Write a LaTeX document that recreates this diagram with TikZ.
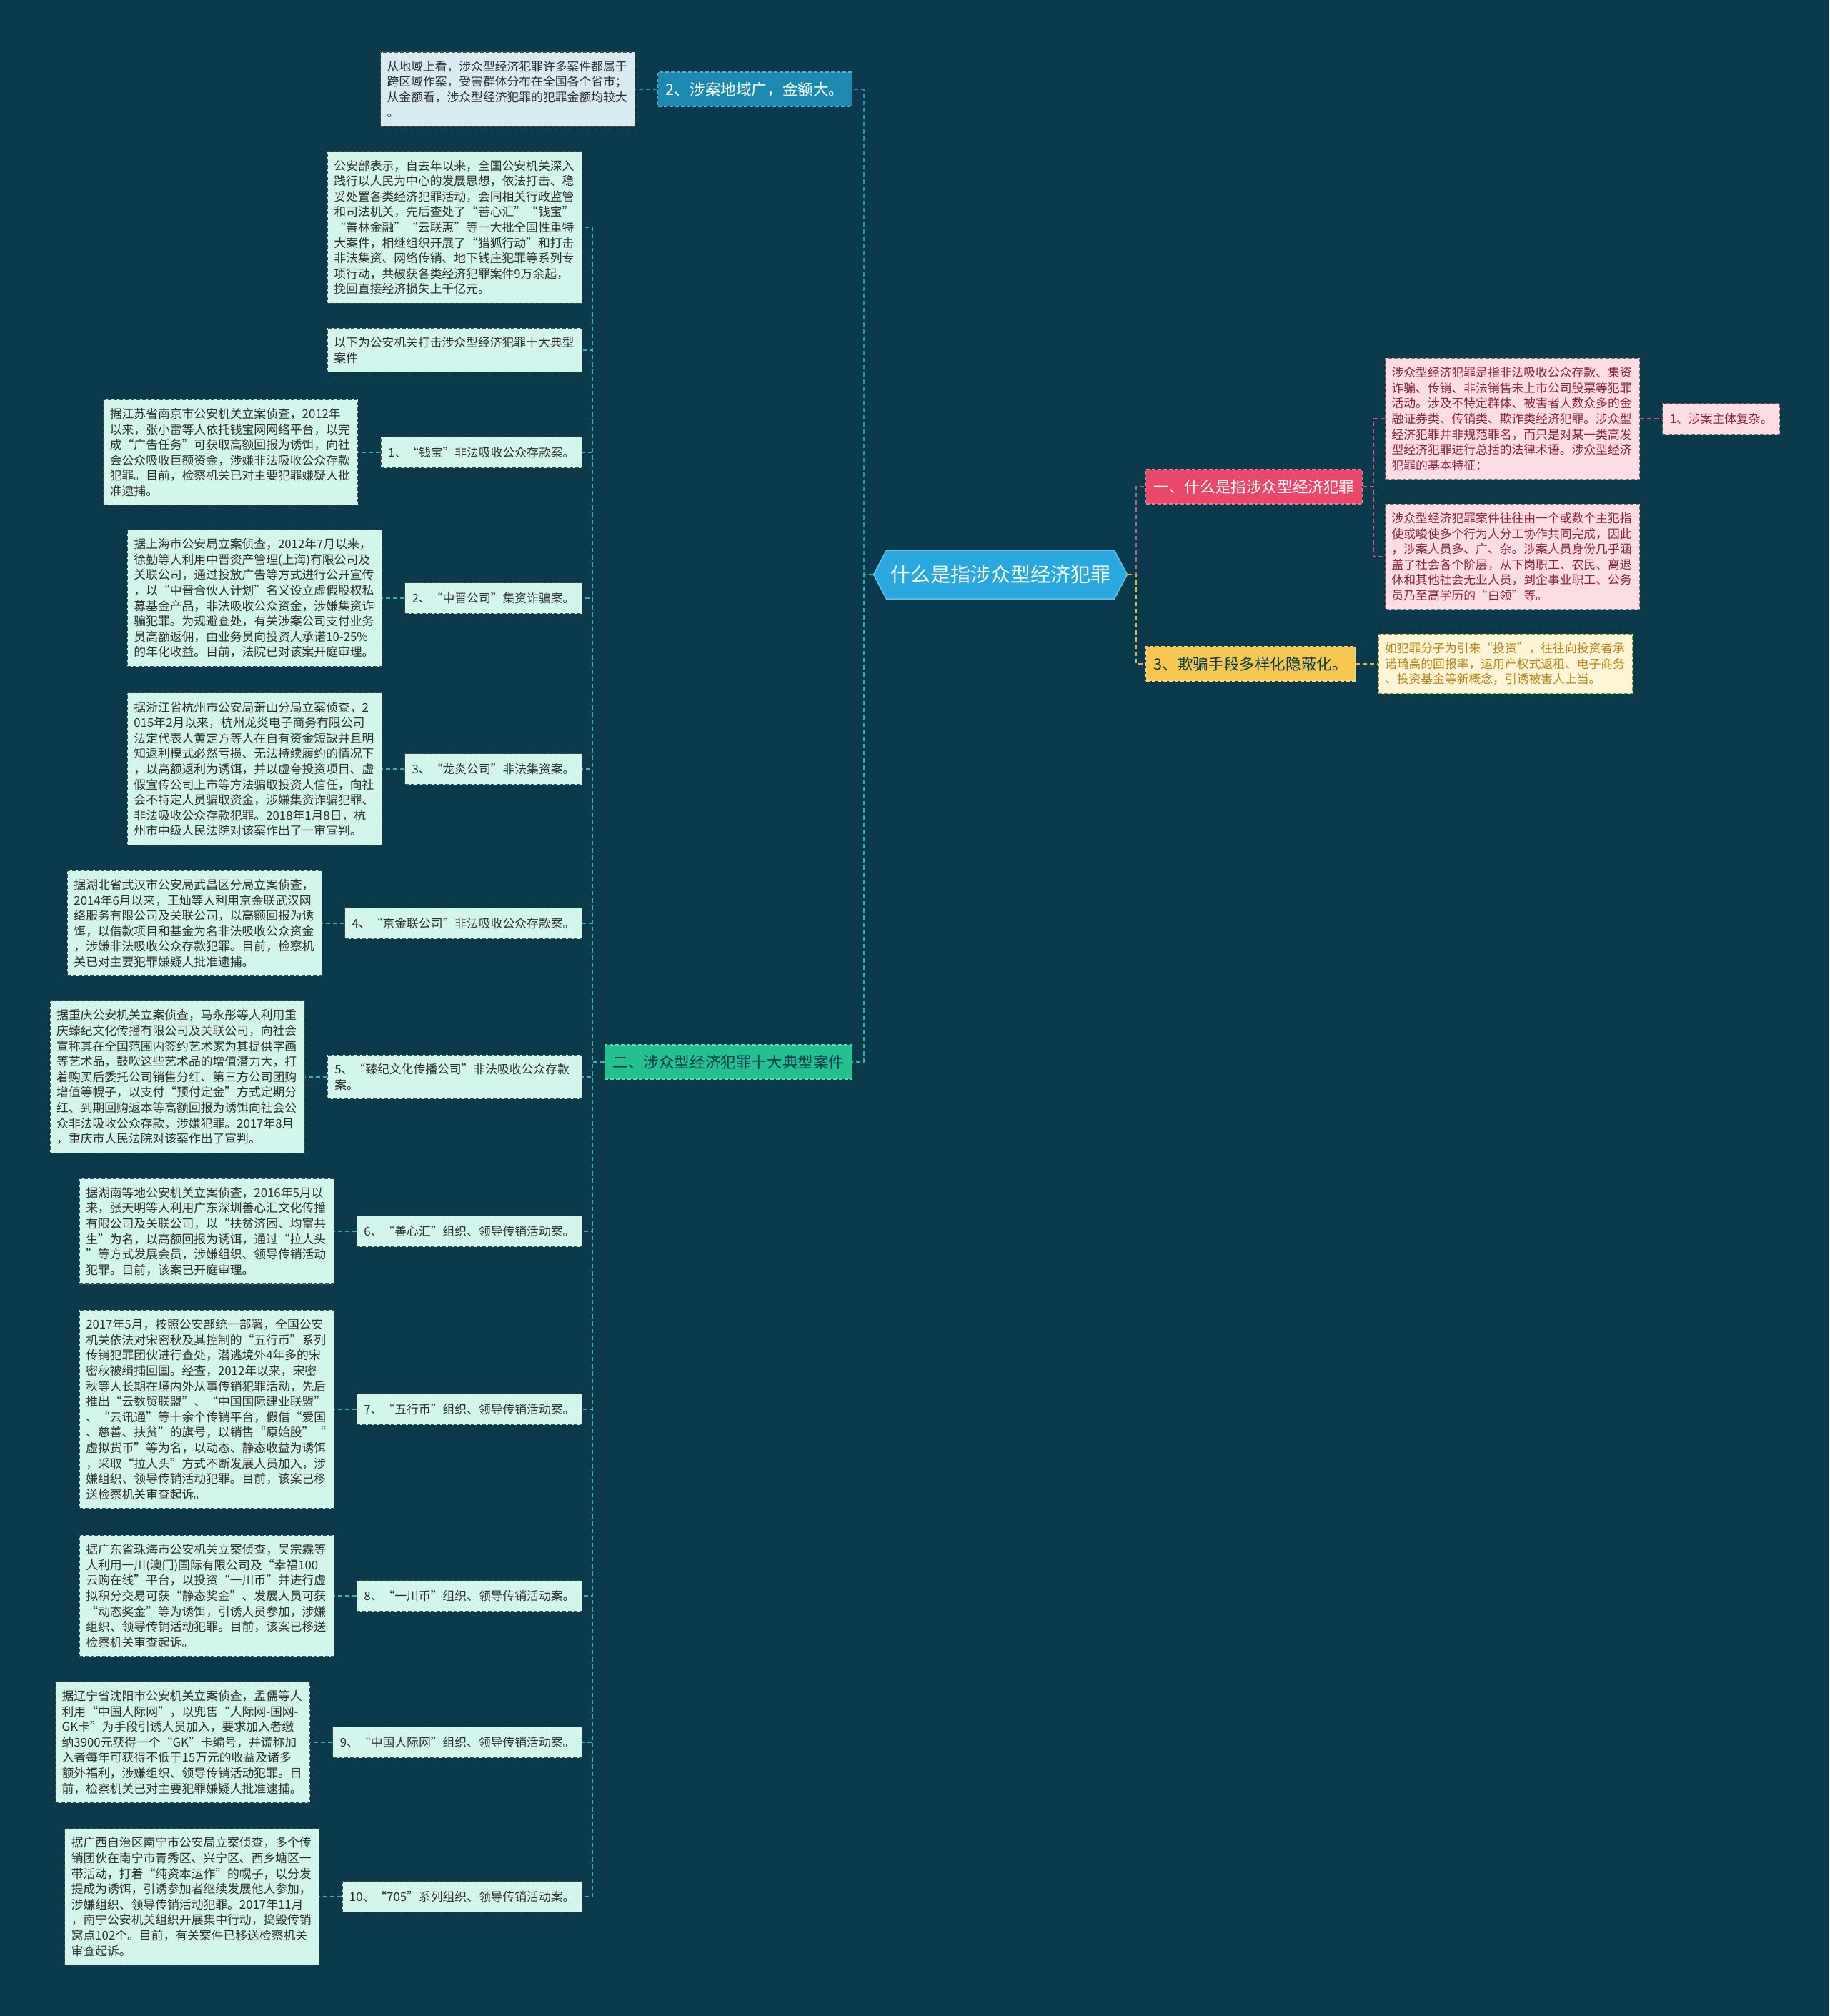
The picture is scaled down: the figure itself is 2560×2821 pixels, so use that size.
\documentclass[tikz,border=0pt]{standalone}
\usepackage{fontspec}
\setmainfont{Noto Sans CJK SC}
\usetikzlibrary{shapes.symbols}
\definecolor{bg}{HTML}{0A3A4B}
\definecolor{rootfill}{HTML}{2AA8E0}
\definecolor{pinkfill}{HTML}{E8486A}
\definecolor{yellowfill}{HTML}{F8C74F}
\definecolor{bluefill}{HTML}{1C8AB0}
\definecolor{greenfill}{HTML}{22C18F}
\definecolor{mint}{HTML}{D2F6EC}
\definecolor{paleblue}{HTML}{D8EBF1}
\definecolor{palepink}{HTML}{FBDDE3}
\definecolor{paleyellow}{HTML}{FDF5D6}
\definecolor{bord}{HTML}{3E4C4C}
\definecolor{txtdark}{HTML}{2E2E2E}
\definecolor{txtpink}{HTML}{8C2143}
\definecolor{txtyellow}{HTML}{B48714}
\definecolor{lnteal}{HTML}{38B4AA}
\definecolor{lnblue}{HTML}{2A93B8}
\definecolor{lnpink}{HTML}{B8627E}
\definecolor{lnyellow}{HTML}{E8B940}
\tikzset{
  smalltxt/.style={font=\fontsize{16.8pt}{21.6pt}\selectfont},
  bigtxt/.style={font=\fontsize{21.6pt}{26pt}\selectfont},
  boxline/.style={draw=bord, line width=1.2pt, dash pattern=on 5pt off 3pt},
  mintbox/.style={boxline, fill=mint, text=txtdark, smalltxt, align=left, text width=338pt, inner xsep=9pt, inner ysep=12pt},
  casebox/.style={boxline, fill=mint, text=txtdark, smalltxt, align=left, inner xsep=10pt, inner ysep=12pt, minimum height=43pt},
  bluebox/.style={mintbox, fill=paleblue},
  pinkbox/.style={mintbox, fill=palepink, text=txtpink, draw=bord!70!pink},
  yellowbox/.style={mintbox, fill=paleyellow, text=txtyellow, draw=bord!60!yellow},
  lvlone/.style={bigtxt, inner xsep=11pt, inner ysep=12pt, minimum height=48pt, line width=1.2pt, dash pattern=on 5pt off 3pt},
  rootnode/.style={signal, signal to=west and east, signal pointer angle=124, fill=rootfill, draw=rootfill!70!white, line width=1.5pt, text=white, font=\fontsize{28pt}{32pt}\selectfont, minimum height=68pt, minimum width=355pt, inner xsep=4pt},
  conn/.style={line width=1.6pt, dash pattern=on 6pt off 4pt},
}
\begin{document}
\begin{tikzpicture}[x=1pt,y=-1pt]
\fill[bg] (0,0) rectangle (2560,2821);
\useasboundingbox (0,0) rectangle (2560,2821);

% trunk coordinates
\coordinate (tL) at (1209,0);
\coordinate (tR) at (1590,0);
\coordinate (tP) at (1922,0);
\coordinate (tB) at (829,0);

% root
\node[rootnode] (root) at (1400,804) {什么是指涉众型经济犯罪};

% first level
\node[lvlone, anchor=west, fill=pinkfill, draw=pinkfill!70!white, text=white] (p1) at (1603,681) {一、什么是指涉众型经济犯罪};
\node[lvlone, anchor=west, fill=yellowfill, draw=yellowfill!70!white, text=bg] (p3) at (1603,929) {3、欺骗手段多样化隐蔽化。};
\node[lvlone, anchor=east, fill=bluefill, draw=bluefill!70!white, text=white] (p2) at (1193,125) {2、涉案地域广，金额大。};
\node[lvlone, anchor=east, fill=greenfill, draw=greenfill!70!white, text=bg] (q2) at (1193,1486) {二、涉众型经济犯罪十大典型案件};

% right side
\node[pinkbox, anchor=west] (d1) at (1938,586) {涉众型经济犯罪是指非法吸收公众存款、集资\\诈骗、传销、非法销售未上市公司股票等犯罪\\活动。涉及不特定群体、被害者人数众多的金\\融证券类、传销类、欺诈类经济犯罪。涉众型\\经济犯罪并非规范罪名，而只是对某一类高发\\型经济犯罪进行总括的法律术语。涉众型经济\\犯罪的基本特征：};
\node[pinkbox, anchor=west] (d2) at (1938,779) {涉众型经济犯罪案件往往由一个或数个主犯指\\使或唆使多个行为人分工协作共同完成，因此\\，涉案人员多、广、杂。涉案人员身份几乎涵\\盖了社会各个阶层，从下岗职工、农民、离退\\休和其他社会无业人员，到企事业职工、公务\\员乃至高学历的“白领”等。};
\node[casebox, anchor=west, fill=palepink, text=txtpink, draw=bord!70!pink] (d3) at ([xshift=31pt]d1.east) {1、涉案主体复杂。};
\node[yellowbox, anchor=west] (y1) at ([xshift=31pt]p3.east) {如犯罪分子为引来“投资”，往往向投资者承\\诺畸高的回报率，运用产权式返租、电子商务\\、投资基金等新概念，引诱被害人上当。};

% top left
\node[bluebox, anchor=east] (t0) at ([xshift=-31pt]p2.west) {从地域上看，涉众型经济犯罪许多案件都属于\\跨区域作案，受害群体分布在全国各个省市；\\从金额看，涉众型经济犯罪的犯罪金额均较大\\。};

% children of 二
\node[mintbox, anchor=east] (g0) at (815,318) {公安部表示，自去年以来，全国公安机关深入\\践行以人民为中心的发展思想，依法打击、稳\\妥处置各类经济犯罪活动，会同相关行政监管\\和司法机关，先后查处了“善心汇”“钱宝”\\“善林金融”“云联惠”等一大批全国性重特\\大案件，相继组织开展了“猎狐行动”和打击\\非法集资、网络传销、地下钱庄犯罪等系列专\\项行动，共破获各类经济犯罪案件9万余起，\\挽回直接经济损失上千亿元。};
\node[mintbox, anchor=east] (g1) at (815,490) {以下为公安机关打击涉众型经济犯罪十大典型\\案件};

\node[casebox, anchor=east] (c1) at (815,633) {1、“钱宝”非法吸收公众存款案。};
\node[mintbox, anchor=east] (x1) at ([xshift=-31pt]c1.west) {据江苏省南京市公安机关立案侦查，2012年\\以来，张小雷等人依托钱宝网网络平台，以完\\成“广告任务”可获取高额回报为诱饵，向社\\会公众吸收巨额资金，涉嫌非法吸收公众存款\\犯罪。目前，检察机关已对主要犯罪嫌疑人批\\准逮捕。};

\node[casebox, anchor=east] (c2) at (815,837) {2、“中晋公司”集资诈骗案。};
\node[mintbox, anchor=east] (x2) at ([xshift=-31pt]c2.west) {据上海市公安局立案侦查，2012年7月以来，\\徐勤等人利用中晋资产管理(上海)有限公司及\\关联公司，通过投放广告等方式进行公开宣传\\，以“中晋合伙人计划”名义设立虚假股权私\\募基金产品，非法吸收公众资金，涉嫌集资诈\\骗犯罪。为规避查处，有关涉案公司支付业务\\员高额返佣，由业务员向投资人承诺10-25\%\\的年化收益。目前，法院已对该案开庭审理。};

\node[casebox, anchor=east] (c3) at (815,1076) {3、“龙炎公司”非法集资案。};
\node[mintbox, anchor=east] (x3) at ([xshift=-31pt]c3.west) {据浙江省杭州市公安局萧山分局立案侦查，2\\015年2月以来，杭州龙炎电子商务有限公司\\法定代表人黄定方等人在自有资金短缺并且明\\知返利模式必然亏损、无法持续履约的情况下\\，以高额返利为诱饵，并以虚夸投资项目、虚\\假宣传公司上市等方法骗取投资人信任，向社\\会不特定人员骗取资金，涉嫌集资诈骗犯罪、\\非法吸收公众存款犯罪。2018年1月8日，杭\\州市中级人民法院对该案作出了一审宣判。};

\node[casebox, anchor=east] (c4) at (815,1292) {4、“京金联公司”非法吸收公众存款案。};
\node[mintbox, anchor=east] (x4) at ([xshift=-31pt]c4.west) {据湖北省武汉市公安局武昌区分局立案侦查，\\2014年6月以来，王灿等人利用京金联武汉网\\络服务有限公司及关联公司，以高额回报为诱\\饵，以借款项目和基金为名非法吸收公众资金\\，涉嫌非法吸收公众存款犯罪。目前，检察机\\关已对主要犯罪嫌疑人批准逮捕。};

\node[casebox, anchor=east, text width=336pt] (c5) at (815,1507) {5、“臻纪文化传播公司”非法吸收公众存款\\案。};
\node[mintbox, anchor=east] (x5) at ([xshift=-31pt]c5.west) {据重庆公安机关立案侦查，马永彤等人利用重\\庆臻纪文化传播有限公司及关联公司，向社会\\宣称其在全国范围内签约艺术家为其提供字画\\等艺术品，鼓吹这些艺术品的增值潜力大，打\\着购买后委托公司销售分红、第三方公司团购\\增值等幌子，以支付“预付定金”方式定期分\\红、到期回购返本等高额回报为诱饵向社会公\\众非法吸收公众存款，涉嫌犯罪。2017年8月\\，重庆市人民法院对该案作出了宣判。};

\node[casebox, anchor=east] (c6) at (815,1723) {6、“善心汇”组织、领导传销活动案。};
\node[mintbox, anchor=east] (x6) at ([xshift=-31pt]c6.west) {据湖南等地公安机关立案侦查，2016年5月以\\来，张天明等人利用广东深圳善心汇文化传播\\有限公司及关联公司，以“扶贫济困、均富共\\生”为名，以高额回报为诱饵，通过“拉人头\\”等方式发展会员，涉嫌组织、领导传销活动\\犯罪。目前，该案已开庭审理。};

\node[casebox, anchor=east] (c7) at (815,1972) {7、“五行币”组织、领导传销活动案。};
\node[mintbox, anchor=east] (x7) at ([xshift=-31pt]c7.west) {2017年5月，按照公安部统一部署，全国公安\\机关依法对宋密秋及其控制的“五行币”系列\\传销犯罪团伙进行查处，潜逃境外4年多的宋\\密秋被缉捕回国。经查，2012年以来，宋密\\秋等人长期在境内外从事传销犯罪活动，先后\\推出“云数贸联盟”、“中国国际建业联盟”\\、“云讯通”等十余个传销平台，假借“爱国\\、慈善、扶贫”的旗号，以销售“原始股”“\\虚拟货币”等为名，以动态、静态收益为诱饵\\，采取“拉人头”方式不断发展人员加入，涉\\嫌组织、领导传销活动犯罪。目前，该案已移\\送检察机关审查起诉。};

\node[casebox, anchor=east] (c8) at (815,2233) {8、“一川币”组织、领导传销活动案。};
\node[mintbox, anchor=east] (x8) at ([xshift=-31pt]c8.west) {据广东省珠海市公安机关立案侦查，吴宗霖等\\人利用一川(澳门)国际有限公司及“幸福100\\云购在线”平台，以投资“一川币”并进行虚\\拟积分交易可获“静态奖金”、发展人员可获\\“动态奖金”等为诱饵，引诱人员参加，涉嫌\\组织、领导传销活动犯罪。目前，该案已移送\\检察机关审查起诉。};

\node[casebox, anchor=east] (c9) at (815,2438) {9、“中国人际网”组织、领导传销活动案。};
\node[mintbox, anchor=east] (x9) at ([xshift=-31pt]c9.west) {据辽宁省沈阳市公安机关立案侦查，孟儒等人\\利用“中国人际网”，以兜售“人际网-国网-\\GK卡”为手段引诱人员加入，要求加入者缴\\纳3900元获得一个“GK”卡编号，并谎称加\\入者每年可获得不低于15万元的收益及诸多\\额外福利，涉嫌组织、领导传销活动犯罪。目\\前，检察机关已对主要犯罪嫌疑人批准逮捕。};

\node[casebox, anchor=east] (c10) at (815,2654) {10、“705”系列组织、领导传销活动案。};
\node[mintbox, anchor=east] (x10) at ([xshift=-31pt]c10.west) {据广西自治区南宁市公安局立案侦查，多个传\\销团伙在南宁市青秀区、兴宁区、西乡塘区一\\带活动，打着“纯资本运作”的幌子，以分发\\提成为诱饵，引诱参加者继续发展他人参加，\\涉嫌组织、领导传销活动犯罪。2017年11月\\，南宁公安机关组织开展集中行动，捣毁传销\\窝点102个。目前，有关案件已移送检察机关\\审查起诉。};

% connectors
\draw[conn, draw=lnblue] (root.west) -- (root.west -| tL) |- (p2.east);
\draw[conn, draw=greenfill] (root.west) -- (root.west -| tL) |- (q2.east);
\draw[conn, draw=lnpink] (root.east) -- (root.east -| tR) |- (p1.west);
\draw[conn, draw=lnyellow] (root.east) -- (root.east -| tR) |- (p3.west);
\draw[conn, draw=lnpink] (p1.east) -- (p1.east -| tP) |- (d1.west);
\draw[conn, draw=lnpink] (p1.east) -- (p1.east -| tP) |- (d2.west);
\draw[conn, draw=lnpink] (d1.east) -- (d3.west);
\draw[conn, draw=lnyellow] (p3.east) -- (y1.west);
\draw[conn, draw=lnblue] (p2.west) -- (t0.east);
\foreach \n in {g0,g1,c1,c2,c3,c4,c5,c6,c7,c8,c9,c10}
  \draw[conn, draw=lnteal] (q2.west) -- (q2.west -| tB) |- (\n.east);
\foreach \n in {1,...,10}
  \draw[conn, draw=lnteal] (c\n.west) -- (x\n.east);
\end{tikzpicture}
\end{document}
